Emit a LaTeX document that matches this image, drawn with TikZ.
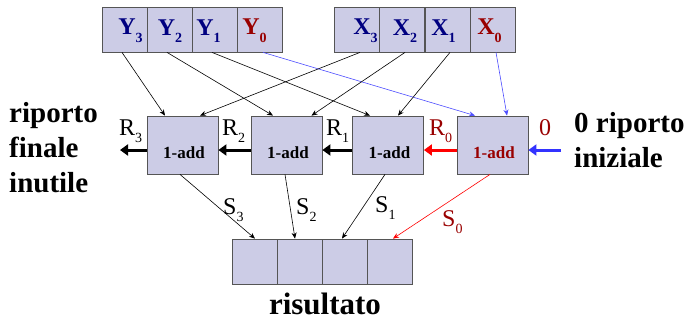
\documentclass[tikz,border=0pt]{standalone}
\usepackage{fontspec}
\setmainfont{Liberation Serif}
\usetikzlibrary{arrows.meta}
\definecolor{boxfill}{HTML}{CCCCE6}
\definecolor{boxline}{HTML}{555555}
\definecolor{navy}{HTML}{000080}
\definecolor{dred}{HTML}{990000}
\definecolor{lblue}{HTML}{4D4DFF}
\definecolor{sblue}{HTML}{3333FF}
\newcommand{\lowsub}[1]{\raisebox{-0.32em}{\fontsize{14}{14}\selectfont #1}}
\newcommand{\rsub}[1]{\raisebox{-0.3em}{\fontsize{14}{14}\selectfont #1}}
\tikzset{
  inbox/.style={draw=boxline, fill=boxfill, line width=0.8pt, minimum width=45pt, minimum height=45pt, inner sep=0pt},
  intext/.style={font=\fontsize{24}{24}\selectfont\bfseries, text=navy, inner sep=0pt},
  addbox/.style={draw=boxline, fill=boxfill, line width=0.8pt, minimum width=71pt, minimum height=58pt, inner sep=0pt},
  addtext/.style={font=\fontsize{17}{17}\selectfont\bfseries},
  resbox/.style={draw=boxline, fill=boxfill, line width=0.8pt, minimum width=45pt, minimum height=45pt, inner sep=0pt},
  thin/.style={line width=0.6pt, -{Stealth[length=6pt,width=5pt]}},
  carry/.style={line width=3pt, -{Triangle[length=8pt,width=11pt]}},
  lbl/.style={font=\fontsize{24}{24}\selectfont, inner sep=0pt, anchor=base west},
  big/.style={font=\fontsize{29}{35}\selectfont\bfseries, align=left, inner sep=0pt}
}
\begin{document}
\begin{tikzpicture}[x=1pt, y=-1pt]
\useasboundingbox (0,0) rectangle (691,322);
% inputs
\node[inbox] (y3) at (124.5,29.5) {};
\node[inbox] (y2) at (169.5,29.5) {};
\node[inbox] (y1) at (214.5,29.5) {};
\node[inbox] (y0) at (259.5,29.5) {};
\node[inbox] (x3) at (356.5,29.5) {};
\node[inbox] (x2) at (402,29.5) {};
\node[inbox] (x1) at (447.5,29.5) {};
\node[inbox] (x0) at (493,29.5) {};
\node[intext] (ly3) at (130.5,31) {Y\lowsub{3}};
\node[intext] (ly2) at (170,31) {Y\lowsub{2}};
\node[intext] (ly1) at (208.5,31) {Y\lowsub{1}};
\node[intext, text=dred] (ly0) at (254.5,31) {Y\lowsub{0}};
\node[intext] (lx3) at (365.5,31) {X\lowsub{3}};
\node[intext] (lx2) at (405,31) {X\lowsub{2}};
\node[intext] (lx1) at (443.5,31) {X\lowsub{1}};
\node[intext, text=dred] (lx0) at (489.5,31) {X\lowsub{0}};
% adders
\node[addbox] (a3) at (182.5,145) {};
\node[addbox] (a2) at (286.5,145) {};
\node[addbox] (a1) at (388,145) {};
\node[addbox] (a0) at (492.5,145) {};
\node[addtext] (t3) at (184,153) {1-add};
\node[addtext] (t2) at (288,153) {1-add};
\node[addtext] (t1) at (389.5,153) {1-add};
\node[addtext, text=dred] (t0) at (494,153) {1-add};
% results
\node[resbox] (r3) at (254.5,261.5) {};
\node[resbox] (r2) at (299.5,261.5) {};
\node[resbox] (r1) at (344.5,261.5) {};
\node[resbox] (r0) at (389.5,261.5) {};
% input connectors
\draw[thin] ([xshift=-2.5pt]y3.south) -- ([xshift=-17.5pt]a3.north);
\draw[thin] ([xshift=-2.5pt]y2.south) -- ([xshift=-13.5pt]a2.north);
\draw[thin] ([xshift=-2.5pt]y1.south) -- ([xshift=-18pt]a1.north);
\draw[thin, lblue] ([xshift=3.5pt]y0.south) -- ([xshift=-17.5pt]a0.north);
\draw[thin] ([xshift=3.5pt]x3.south) -- ([xshift=17.5pt]a3.north);
\draw[thin] ([xshift=3pt]x2.south) -- ([xshift=25pt]a2.north);
\draw[thin] ([xshift=2.5pt]x1.south) -- ([xshift=10pt]a1.north);
\draw[thin, lblue] ([xshift=3pt]x0.south) -- ([xshift=14.5pt]a0.north);
% sum connectors
\draw[thin] ([xshift=-2.5pt]a3.south) -- ([xshift=0.5pt]r3.north);
\draw[thin] ([xshift=-1.5pt]a2.south) -- ([xshift=-4.5pt]r2.north);
\draw[thin] ([xshift=-3pt]a1.south) -- ([xshift=-2.5pt]r1.north);
\draw[thin, red] ([xshift=-2.5pt]a0.south) -- ([xshift=3.5pt]r0.north);
% carries
\coordinate (cout) at (120,150);
\coordinate (cin) at (561,150);
\draw[carry] ([yshift=-5pt]a3.west) -- (cout);
\draw[carry] ([yshift=-5pt]a2.west) -- ([yshift=-5pt]a3.east);
\draw[carry] ([yshift=-5pt]a1.west) -- ([yshift=-5pt]a2.east);
\draw[carry, red] ([yshift=-5pt]a0.west) -- ([yshift=-5pt]a1.east);
\draw[carry, sblue] (cin) -- ([yshift=-5pt]a0.east);
% labels
\node[lbl] (lr3) at (119,135) {R\rsub{3}};
\node[lbl] (lr2) at (222,135) {R\rsub{2}};
\node[lbl] (lr1) at (326,135) {R\rsub{1}};
\node[lbl, text=dred] (lr0) at (429,135) {R\rsub{0}};
\node[lbl, text=dred] (lz) at (539,135) {0};
\node[lbl] (ls3) at (223,214) {S\rsub{3}};
\node[lbl] (ls2) at (296,214) {S\rsub{2}};
\node[lbl] (ls1) at (375,212) {S\rsub{1}};
\node[lbl, text=dred] (ls0) at (442,226) {S\rsub{0}};
% side texts
\node[big, anchor=west] (left) at (9,148) {riporto\\finale\\inutile};
\node[big, anchor=west] (right) at (574,140) {0 riporto\\iniziale};
\node[big, anchor=base, font=\fontsize{31}{35}\selectfont\bfseries] (res) at (325,314) {risultato};
\end{tikzpicture}
\end{document}
